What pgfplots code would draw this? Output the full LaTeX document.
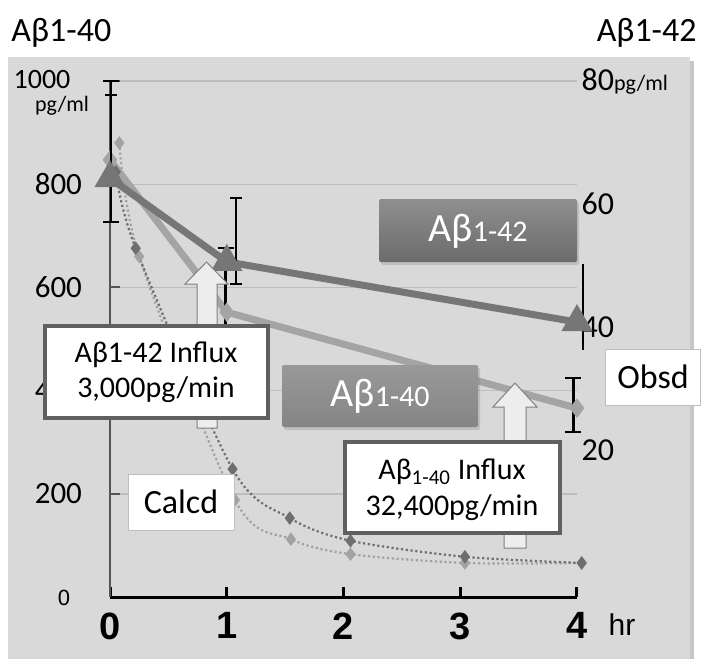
\documentclass[border=0pt]{standalone}
\usepackage{pgfplots}
\pgfplotsset{compat=1.18}
\usepackage{fontspec}
\setmainfont{Carlito}
\newfontfamily\arialfont{Liberation Sans}
\usetikzlibrary{shadows}
\definecolor{bggray}{HTML}{D9D9D9}
\definecolor{gridgray}{HTML}{BDBDBD}
\definecolor{axgray}{HTML}{555555}
\definecolor{darkline}{HTML}{767676}
\definecolor{lightline}{HTML}{A4A4A4}
\definecolor{darkdot}{HTML}{6E6E6E}
\definecolor{lightdot}{HTML}{A2A2A2}
\definecolor{boxborder}{HTML}{606060}
\newcommand{\fs}[1]{\fontsize{#1}{#1}\selectfont}
\begin{document}
\begin{tikzpicture}
\begin{scope}[x=0.5pt,y=-0.5pt]
  \useasboundingbox (0,0) rectangle (707,659);
  \fill[white] (0,0) rectangle (707,659);
  \fill[black!22] (690,61) rectangle (694,659);
  \fill[bggray] (8,57) rectangle (690,659);
  \node[anchor=base west, inner sep=0, font=\fs{17}] at (11,41) {Aβ1-40};
  \node[anchor=base east, inner sep=0, font=\fs{17}] at (697,41) {Aβ1-42};
\end{scope}
\begin{axis}[
  at={(55pt,-298.5pt)}, anchor=south west,
  scale only axis, width=233.5pt, height=258pt,
  xmin=0, xmax=4, ymin=0, ymax=1000,
  clip=false,
  axis x line*=bottom, axis y line*=left,
  axis line style={-},
  x axis line style={black, line width=1.5pt, -},
  y axis line style={axgray, line width=1pt, -},
  xtick={0,1,2,3,4},
  xticklabels={0,1,2,3,4},
  ytick={0,200,400,600,800,1000},
  yticklabels={,200,400,600,800,},
  tick align=inside,
  major tick length=5pt,
  x tick style={black, line width=1.5pt},
  y tick style={axgray, line width=1pt},
  ymajorgrids, grid style={gridgray, line width=0.7pt},
  xticklabel style={font=\arialfont\bfseries\fs{19}, yshift=-4.25pt},
  yticklabel style={font=\fs{15.5}, xshift=-10.5pt},
]
\addplot[lightdot, line width=1.1pt, dash pattern=on 1.1pt off 1.3pt, smooth, tension=0.5,
  mark=diamond*, mark size=2.5pt, mark options={solid, fill=lightdot, draw=lightdot}]
  coordinates {(0.08,880) (0.25,660) (1.07,188) (1.55,112) (2.06,83) (3.04,66) (4.04,66)};
\addplot[darkdot, line width=1.1pt, dash pattern=on 1.1pt off 1.3pt, smooth, tension=0.5,
  mark=diamond*, mark size=2.5pt, mark options={solid, fill=darkdot, draw=darkdot}]
  coordinates {(0.05,824) (0.22,676) (1.05,248) (1.54,153) (2.06,109) (3.04,78) (4.04,66)};
\addplot[lightline, line width=3.5pt, mark=diamond*, mark size=4.5pt,
  mark options={fill=lightline, draw=lightline, line width=0.5pt}]
  coordinates {(0,847) (1,552) (4,366)};
\addplot[draw=none, mark=none, forget plot,
  error bars/.cd, y dir=both, y explicit,
  error bar style={draw=black, line width=1.2pt, solid},
  error mark options={rotate=90, draw=black, line width=1.2pt, mark size=4pt}]
  coordinates {(0.01,847) += (0,153) -= (0,120) (0.99,552) +- (0,124) (3.97,372) +- (0,52)};
\end{axis}
\begin{axis}[
  at={(55pt,-298.5pt)}, anchor=south west,
  scale only axis, width=233.5pt, height=258pt,
  xmin=0, xmax=4, ymin=-3.9, ymax=80, clip=false,
  hide x axis, axis y line*=right,
  y axis line style={draw=none},
  ytick={20,40,60,80},
  yticklabels={20,40,60,{80{\fs{11}pg/ml}}},
  major tick length=0pt,
  yticklabel style={font=\fs{16}, anchor=west, xshift=-1.2pt},
]
\addplot[darkline, line width=3.5pt, mark=triangle*, mark size=5.5pt,
  mark options={fill=darkline, draw=darkline}]
  coordinates {(0,64.2) (1,50.6) (4,40.8)};
\addplot[draw=none, mark=none, forget plot,
  error bars/.cd, y dir=both, y explicit,
  error bar style={draw=black, line width=1.2pt, solid},
  error mark options={rotate=90, draw=black, line width=1.2pt, mark size=3pt}]
  coordinates {(0.01,64.2) += (0,13.5) -= (0,0) (1.08,54) +- (0,7)};
\addplot[draw=none, mark=none, forget plot,
  error bars/.cd, y dir=both, y explicit, error mark=none,
  error bar style={draw=black, line width=1.2pt, solid}]
  coordinates {(4.05,43.2) +- (0,7)};
\end{axis}
\begin{scope}[x=0.5pt,y=-0.5pt]
  \node[inner sep=0, font=\fs{14}] at (42,80) {1000};
  \node[inner sep=0, font=\fs{11}] at (62,106) {pg/ml};
  \node[inner sep=0, font=\arialfont\fs{11}] at (64,598) {0};
  \node[inner sep=0, font=\arialfont\fs{15}] at (622,625) {hr};
  % arrows
  \filldraw[fill=black!7, draw=black!50, line width=0.5pt]
    (185,284)--(206.5,262)--(228,284)--(217,284)--(217,428)--(197,428)--(197,284)--cycle;
  \filldraw[fill=black!7, draw=black!50, line width=0.5pt]
    (493,407)--(515,383)--(537,407)--(526,407)--(526,548)--(504,548)--(504,407)--cycle;
  % grey label boxes
  \path[top color=black!44, bottom color=black!58, rounded corners=1pt,
    drop shadow={opacity=0.3, shadow xshift=1pt, shadow yshift=-1.5pt}]
    (379,199) rectangle (577,262);
  \node[inner sep=0, text=white] at (478,231) {\fs{20}Aβ\fs{15}1-42};
  \path[top color=black!40, bottom color=black!48, rounded corners=1pt,
    drop shadow={opacity=0.3, shadow xshift=1pt, shadow yshift=-1.5pt}]
    (282,365) rectangle (478,427);
  \node[inner sep=0, text=white] at (380,396) {\fs{20}Aβ\fs{15}1-40};
  % influx boxes
  \filldraw[draw=boxborder, line width=2pt, fill=white] (45,326) rectangle (268,418);
  \node[inner sep=0, font=\fs{15}] at (156,355) {Aβ1-42 Influx};
  \node[inner sep=0, font=\fs{15}] at (156,390) {3,000pg/min};
  \filldraw[draw=boxborder, line width=2pt, fill=white] (345,442) rectangle (560,533);
  \node[inner sep=0, font=\fs{15}] at (452,472) {Aβ\textsubscript{1-40} Influx};
  \node[inner sep=0, font=\fs{15}] at (452,508) {32,400pg/min};
  % calcd / obsd
  \filldraw[draw=black!25, line width=0.5pt, fill=white] (128,474) rectangle (234,530);
  \node[inner sep=0, font=\fs{17}] at (181,502) {Calcd};
  \filldraw[draw=black!25, line width=0.5pt, fill=white] (605,349) rectangle (700,405);
  \node[inner sep=0, font=\fs{17}] at (653,377) {Obsd};
\end{scope}
\end{tikzpicture}
\end{document}
